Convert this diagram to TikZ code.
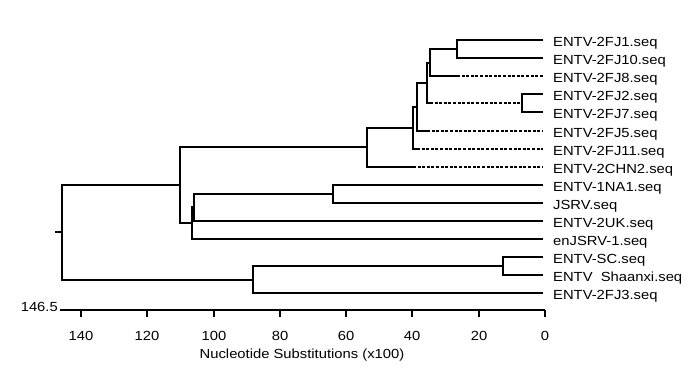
\documentclass[tikz,border=0pt]{standalone}
\usepackage{fontspec}
\setmainfont{Liberation Sans}[FakeStretch=1.12]
\begin{document}
\begin{tikzpicture}[x=1pt,y=-1pt,
  br/.style={line width=1.8pt,line join=miter},
  dsh/.style={line width=1.6pt,dash pattern=on 3pt off 1.6pt},
  leaf/.style={anchor=base west,inner sep=0pt,font=\fontsize{13.2}{15}\selectfont},
  tl/.style={anchor=base,inner sep=0pt,font=\fontsize{13.2}{15}\selectfont}]
\useasboundingbox (0,0) rectangle (700,370);
% leaves
\foreach \i/\y/\t in {0/40/ENTV-2FJ1.seq,1/58/ENTV-2FJ10.seq,2/76/ENTV-2FJ8.seq,3/94/ENTV-2FJ2.seq,4/112/ENTV-2FJ7.seq,5/131/ENTV-2FJ5.seq,6/149/ENTV-2FJ11.seq,7/167/ENTV-2CHN2.seq,8/185/ENTV-1NA1.seq,9/203/JSRV.seq,10/221/ENTV-2UK.seq,11/239/enJSRV-1.seq,12/257/ENTV-SC.seq,13/275/ENTV\ \ Shaanxi.seq,14/293/ENTV-2FJ3.seq}{
  \coordinate (l\i) at (543,\y);
  \node[leaf] (t\i) at (553,{\y+6.7}) {\t};
}
% internal nodes
\coordinate (N1) at (457,49);
\coordinate (N2) at (430,63);
\coordinate (N3) at (522,103);
\coordinate (N4) at (427,83);
\coordinate (N5) at (417,107);
\coordinate (N6) at (413,128);
\coordinate (N7) at (367,147);
\coordinate (N8) at (180,185);
\coordinate (N9) at (333,194);
\coordinate (N10) at (194,207);
\coordinate (N11) at (192,223);
\coordinate (N12) at (503,266);
\coordinate (N13) at (253,280);
\coordinate (R) at (62,232);
\coordinate (stub) at (55,232);
% solid/dashed split points
\coordinate (s2) at (457,76);
\coordinate (s3) at (430,103);
\coordinate (s5) at (427,131);
\coordinate (s6) at (417,149);
\coordinate (s7) at (413,167);
% branches
\draw[br] (l0) -| (N1) |- (l1);
\draw[br] (N1) -| (N2) |- (s2);
\draw[dsh] (s2) -- (l2);
\draw[br] (l3) -| (N3) |- (l4);
\draw[br] (N2) -| (N4) |- (s3);
\draw[dsh] (s3) -- (N3);
\draw[br] (N4) -| (N5) |- (s5);
\draw[dsh] (s5) -- (l5);
\draw[br] (N5) -| (N6) |- (s6);
\draw[dsh] (s6) -- (l6);
\draw[br] (N6) -| (N7) |- (s7);
\draw[dsh] (s7) -- (l7);
\draw[br] (l8) -| (N9) |- (l9);
\draw[br] (N9) -| (N10) |- (l10);
\draw[br] (N10) -| (N11) |- (l11);
\draw[br] (N7) -| (N8) |- (N11);
\draw[br] (l12) -| (N12) |- (l13);
\draw[br] (N12) -| (N13) |- (l14);
\draw[br] (N8) -| (R) |- (N13);
\draw[br] (stub) -- (R);
% axis
\coordinate (a0) at (60,310);
\coordinate (a1) at (545,310);
\draw[br] (a0) -- (a1);
\foreach \v in {0,20,...,140}{
  \pgfmathsetmacro{\tx}{round(545-3.314*\v)}
  \draw[br] (\tx,310) -- (\tx,316.5);
  \node[tl] at (\tx,340) {\v};
}
\node[anchor=base east,inner sep=0pt,font=\fontsize{13.2}{15}\selectfont] (scale) at (58,311.5) {146.5};
\node[tl] (title) at (302,358) {Nucleotide Substitutions (x100)};
\end{tikzpicture}
\end{document}
